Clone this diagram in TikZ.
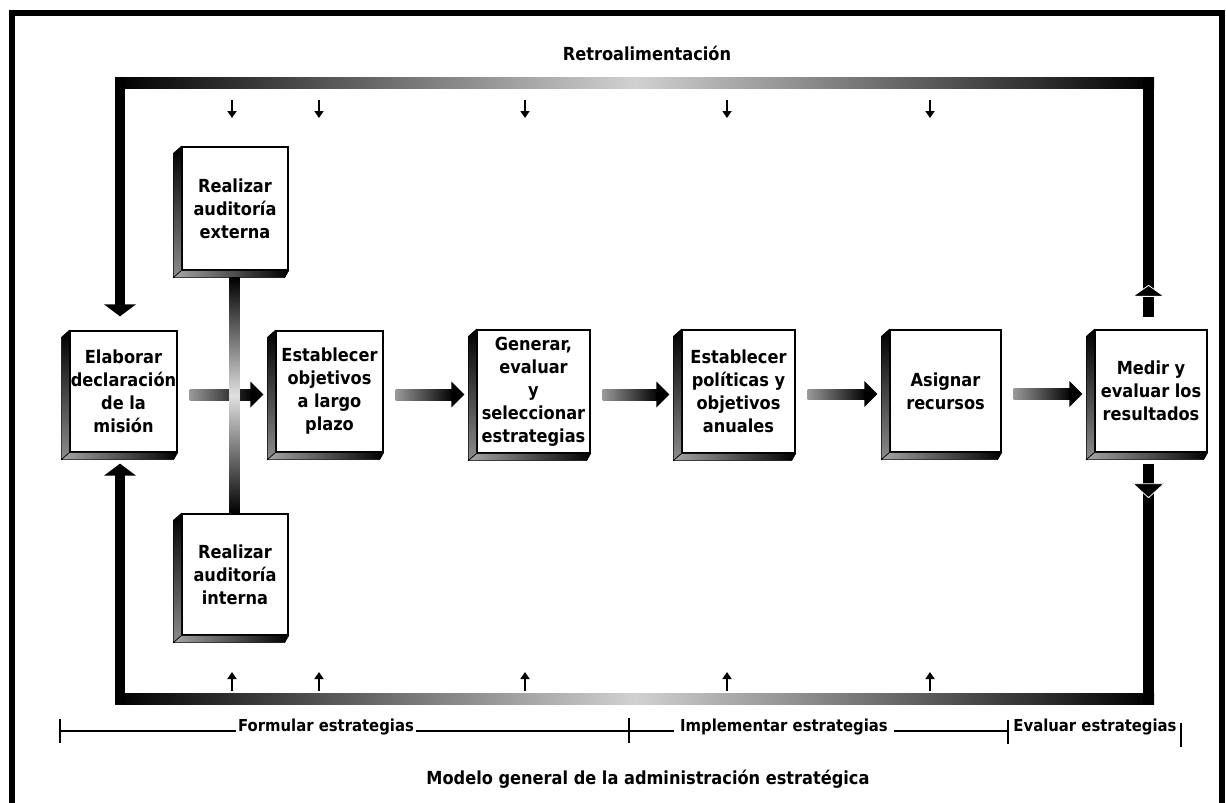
\documentclass[tikz,border=0pt]{standalone}
\usepackage{fontspec}
\setmainfont{DejaVu Sans Condensed}
\usetikzlibrary{arrows.meta,calc}
\newcommand\bevelsides[1]{%
  \shadedraw[top color=black, bottom color=black!45, draw=black, line width=0.6pt]
    (#1.north west) -- ([shift={(-8,7)}]#1.north west) -- ([shift={(-8,7)}]#1.south west) -- (#1.south west) -- cycle;
  \shadedraw[left color=black!35, right color=black, draw=black, line width=0.6pt]
    (#1.south west) -- ([shift={(-8,7)}]#1.south west) -- ([shift={(-4,7)}]#1.south east) -- (#1.south east) -- cycle;
}
\newcommand\flowarrow[2]{%
  \path ([shift={(12,3)}]#1.east) coordinate (fa) ([shift={(-12,3)}]#2.west) coordinate (fb);
  \shade[left color=black!40, right color=black] ([yshift=5.5pt]fa) rectangle ([xshift=-11pt,yshift=-5.5pt]fb);
  \fill ([xshift=-13pt,yshift=13pt]fb) -- (fb) -- ([xshift=-13pt,yshift=-13pt]fb) -- cycle;
}
\begin{document}
\begin{tikzpicture}[x=1pt,y=-1pt,
  boxface/.style={draw=black, line width=1.3pt, fill=white, inner sep=0pt, align=center,
    font=\bfseries\fontsize{18}{23}\selectfont},
  smallarr/.style={line width=2.4pt, -{Triangle[length=7pt,width=9pt]}},
  lbl/.style={font=\bfseries\fontsize{18}{22}\selectfont, inner sep=0pt},
  phlbl/.style={font=\bfseries\fontsize{16.5}{20}\selectfont, inner sep=0pt, anchor=base},
  tickmark/.style={line width=2.6pt},
  phaseline/.style={line width=2pt}]
\useasboundingbox (0,0) rectangle (1226,803);
\fill[white] (0,0) rectangle (1226,803);
% outer frame
\draw[line width=6pt] (12,810) -- (12,13) -- (1222,13) -- (1222,810);

% title
\node[lbl] (title) at (647,53) {Retroalimentación};

% boxes
\node[boxface, minimum width=107pt, minimum height=121pt] (elab) at (123.5,391.5) {Elaborar\\declaración\\de la\\misión};
\node[boxface, minimum width=107pt, minimum height=121pt] (obj) at (329.5,391.5) {Establecer\\objetivos\\a largo\\plazo};
\node[boxface, minimum width=113pt, minimum height=123pt] (gen) at (533.5,391.5) {Generar,\\evaluar\\y\\seleccionar\\estrategias};
\node[boxface, minimum width=113pt, minimum height=123pt] (pol) at (738.5,391.5) {Establecer\\políticas y\\objetivos\\anuales};
\node[boxface, minimum width=111pt, minimum height=122pt] (asig) at (945.5,391) {Asignar\\recursos};
\node[boxface, minimum width=112pt, minimum height=122pt] (med) at (1151,391) {Medir y\\evaluar los\\resultados};
\node[boxface, minimum width=106pt, minimum height=123pt] (ext) at (235,208.5) {Realizar\\auditoría\\externa};
\node[boxface, minimum width=106pt, minimum height=121pt] (int) at (235,574.5) {Realizar\\auditoría\\interna};
\foreach \b in {elab,obj,gen,pol,asig,med,ext,int} {\bevelsides{\b}}

% flow arrows
\flowarrow{elab}{obj}
\flowarrow{obj}{gen}
\flowarrow{gen}{pol}
\flowarrow{pol}{asig}
\flowarrow{asig}{med}

% connector between audits
\path ([yshift=-7pt]ext.south) coordinate (c1) (int.north) coordinate (c2);
\shade[top color=black, bottom color=black, middle color=black!12] ([xshift=-5.5pt]c1) rectangle ([xshift=4.5pt]c2);

% feedback loop
\coordinate (tl) at (115,77);
\coordinate (tr) at (1154,88);
\coordinate (bl) at (115,693);
\coordinate (br) at (1154,704);
\shade[left color=black, right color=black, middle color=black!18] (tl) rectangle (tr);
\shade[left color=black, right color=black, middle color=black!18] (bl) rectangle (br);
% left side
\coordinate (ltip) at ([xshift=-3.5pt,yshift=14pt]elab.north);
\coordinate (lbtip) at ([xshift=-3.5pt,yshift=-11pt]elab.south);
\fill (115,77) rectangle ([xshift=5pt,yshift=11pt]ltip);
\fill ([xshift=-16pt,yshift=12pt]ltip) -- (ltip) -- ([xshift=16pt,yshift=12pt]ltip) -- cycle;
\fill (115,704) rectangle ([xshift=5pt,yshift=-10pt]lbtip);
\fill ([xshift=-16pt,yshift=-12pt]lbtip) -- (lbtip) -- ([xshift=16pt,yshift=-12pt]lbtip) -- cycle;
% right side
\coordinate (rt) at ([xshift=-2.5pt,yshift=12pt]med.north);
\coordinate (rb) at ([xshift=-2.5pt,yshift=-11pt]med.south);
\fill (1143,77) rectangle ([xshift=5.5pt]rt);
\fill[draw=white, line width=0.8pt] ([xshift=-15.5pt,yshift=21pt]rt) -- ([yshift=32pt]rt) -- ([xshift=15.5pt,yshift=21pt]rt) -- cycle;
\fill (1143,704) rectangle ([xshift=5.5pt]rb);
\fill[draw=white, line width=0.8pt] ([xshift=-15.5pt,yshift=-20pt]rb) -- ([yshift=-34pt]rb) -- ([xshift=15.5pt,yshift=-20pt]rb) -- cycle;

% small arrows
\foreach \i/\x in {1/232,2/319,3/525,4/727,5/930} {
  \coordinate (ds\i) at (\x,100);
  \coordinate (de\i) at (\x,118);
  \draw[smallarr] (ds\i) -- (de\i);
  \coordinate (us\i) at (\x,691);
  \coordinate (ue\i) at (\x,672);
  \draw[smallarr] (us\i) -- (ue\i);
}

% phases
\node[phlbl] (pf) at (326,731) {Formular estrategias};
\node[phlbl] (pi) at (784,731) {Implementar estrategias};
\node[phlbl] (pe) at (1095,731) {Evaluar estrategias};
\coordinate (t0) at (60,731);
\coordinate (t1) at (629,731);
\coordinate (t2) at (1008,731);
\coordinate (t3) at (1181,731);
\draw[phaseline] (t0) -- ([xshift=-2pt]pf.base west);
\draw[phaseline] ([xshift=2pt]pf.base east) -- (t1);
\draw[phaseline] (t1) -- ([xshift=-6pt]pi.base west);
\draw[phaseline] ([xshift=6pt]pi.base east) -- (t2);
\draw[tickmark] ([yshift=12pt]t0) -- ([yshift=-12pt]t0);
\draw[tickmark] ([yshift=13pt]t1) -- ([yshift=-12pt]t1);
\draw[tickmark] ([yshift=11pt]t2) -- ([yshift=-13pt]t2);
\draw[tickmark] ([yshift=8pt]t3) -- ([yshift=-16pt]t3);

% caption
\node[lbl] (cap) at (648,779) {Modelo general de la administración estratégica};
\end{tikzpicture}
\end{document}
